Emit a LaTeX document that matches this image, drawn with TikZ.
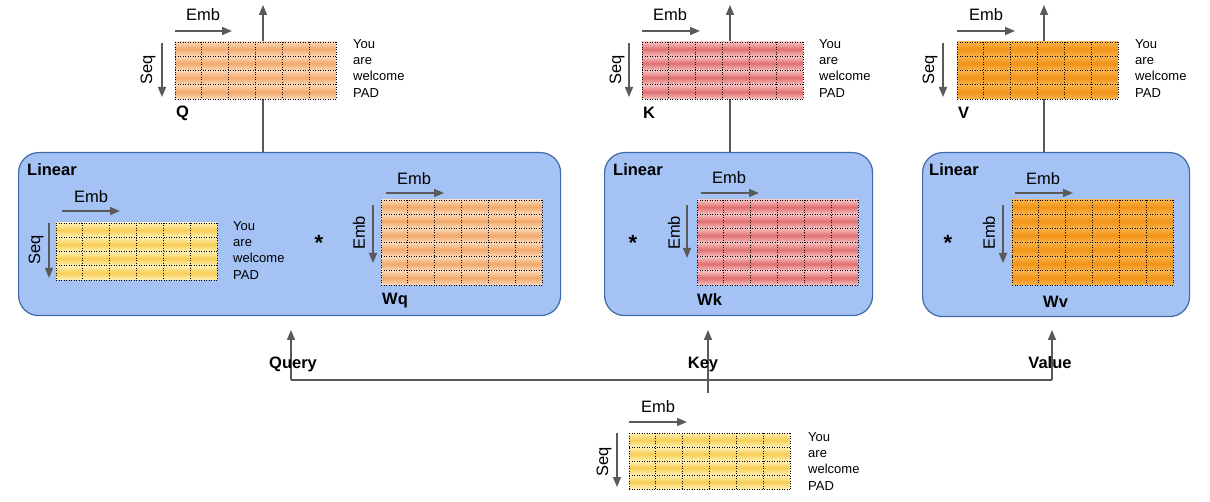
\documentclass[tikz,border=0pt]{standalone}
\usepackage{fontspec}
\setmainfont{Liberation Sans}
\usetikzlibrary{arrows.meta}
\definecolor{boxfill}{HTML}{A4C2F4}
\definecolor{boxborder}{HTML}{3F69A8}
\definecolor{arrgray}{HTML}{5A5A5A}
\definecolor{yellowL}{HTML}{FFF1B5}
\definecolor{yellowD}{HTML}{F7CE55}
\definecolor{peachL}{HTML}{FCD9B8}
\definecolor{peachD}{HTML}{F2A96B}
\definecolor{redL}{HTML}{F7C0C0}
\definecolor{redD}{HTML}{E07070}
\definecolor{orangeL}{HTML}{F9B24A}
\definecolor{orangeD}{HTML}{F29318}
% #1 name, #2 x, #3 y, #4 rows, #5 height, #6 light, #7 dark
\newcommand\gmat[7]{%
  \node[inner sep=0, minimum width=161pt, minimum height=#5pt, anchor=north west] (#1) at (#2,#3) {};
  \foreach \r in {1,...,#4}{%
    \shade[top color=#6, bottom color=#6, middle color=#7]
      (#2,{#3+(\r-1)*#5/#4}) rectangle ({#2+161},{#3+\r*#5/#4});}
  \foreach \r in {0,...,#4}{%
    \draw[dotline] (#2,{#3+\r*#5/#4}) -- ({#2+161},{#3+\r*#5/#4});}
  \foreach \c in {0,...,6}{%
    \draw[dotline] ({#2+\c*161/6},#3) -- ({#2+\c*161/6},{#3+#5});}
}
\begin{document}
\begin{tikzpicture}[x=1pt,y=-1pt,
  arr/.style={draw=arrgray, line width=1.4pt, -{Triangle[length=10pt,width=8pt]}},
  plain/.style={draw=arrgray, line width=1.4pt},
  linbox/.style={draw=boxborder, line width=1.2pt, fill=boxfill, rounded corners=20pt, inner sep=0, anchor=north west},
  lbl/.style={font=\fontsize{16.5}{18}\selectfont, inner sep=0},
  blbl/.style={font=\fontsize{16.5}{18}\selectfont\bfseries, inner sep=0, anchor=west},
  star/.style={font=\fontsize{22}{24}\selectfont\bfseries, inner sep=0},
  words/.style={font=\fontsize{13}{16.3}\selectfont, align=left, inner sep=0, anchor=north west},
  dotline/.style={black, line width=0.9pt, dash pattern=on 0.9pt off 1.6pt},
]
\useasboundingbox[fill=white] (0,0) rectangle (1210,502);

% Linear boxes
\node[linbox, minimum width=542pt, minimum height=163pt] (lq) at (18,152) {};
\node[linbox, minimum width=268pt, minimum height=163pt] (lk) at (604,152) {};
\node[linbox, minimum width=267pt, minimum height=164pt] (lv) at (922,152) {};
\node[blbl] (linq) at (27,170) {Linear};
\node[blbl] (link) at (613,170) {Linear};
\node[blbl] (linv) at (929,170) {Linear};

% output arrows
\coordinate (qtop) at (263,5);
\coordinate (ktop) at (730,5);
\coordinate (vtop) at (1044,5);
\draw[arr] (qtop |- lq.north) -- (qtop);
\draw[arr] (ktop |- lk.north) -- (ktop);
\draw[arr] (vtop |- lv.north) -- (vtop);

% output matrices
\gmat{mq}{175}{42}{4}{57}{peachL}{peachD}
\gmat{mk}{642}{42}{4}{57}{redL}{redD}
\gmat{mv}{957}{42}{4}{57}{orangeL}{orangeD}
% inner matrices
\gmat{mx}{56}{223}{4}{57}{yellowL}{yellowD}
\gmat{wq}{381}{200}{6}{85}{peachL}{peachD}
\gmat{wk}{697}{200}{6}{85}{redL}{redD}
\gmat{wv}{1012}{200}{6}{85}{orangeL}{orangeD}
% input matrix
\gmat{in}{629}{433}{4}{56}{yellowL}{yellowD}

% Emb horizontal labels and arrows
\node[lbl] (eq) at (203,15) {Emb};
\node[lbl] (ek) at (670,15) {Emb};
\node[lbl] (ev) at (986,15) {Emb};
\node[lbl] (ex) at (91,197) {Emb};
\node[lbl] (ewq) at (414,179) {Emb};
\node[lbl] (ewk) at (729,178) {Emb};
\node[lbl] (ewv) at (1043,179) {Emb};
\node[lbl] (ein) at (658,407) {Emb};
\draw[arr] (mq.north west |- 0,31) -- (232,31);
\draw[arr] (mk.north west |- 0,31) -- (700,31);
\draw[arr] (mv.north west |- 0,31) -- (1015,31);
\draw[arr] (62,211) -- (120,211);
\draw[arr] (386,193) -- (444,193);
\draw[arr] (701,193) -- (759,193);
\draw[arr] (1015,193) -- (1073,193);
\draw[arr] (in.north west |- 0,422) -- (687,422);

% vertical arrows
\draw[arr] (162,43) -- (162,97);
\draw[arr] (629,43) -- (629,97);
\draw[arr] (943,43) -- (943,97);
\draw[arr] (49,223) -- (49,278);
\draw[arr] (617,433) -- (617,487);
\draw[arr] (373,205) -- (373,263);
\draw[arr] (687,205) -- (687,258);
\draw[arr] (1003,205) -- (1003,263);
\node[lbl, rotate=90] (sq) at (148,70) {Seq};
\node[lbl, rotate=90] (sk) at (617,70) {Seq};
\node[lbl, rotate=90] (sv) at (930,70) {Seq};
\node[lbl, rotate=90] (sx) at (36,250) {Seq};
\node[lbl, rotate=90] (sin) at (604,462) {Seq};
\node[lbl, rotate=90] (vwq) at (359,233) {Emb};
\node[lbl, rotate=90] (vwk) at (674,233) {Emb};
\node[lbl, rotate=90] (vwv) at (989,233) {Emb};

% word labels
\node[words] (tq) at (353,39) {You\\are\\welcome\\PAD};
\node[words] (tk) at (819,39) {You\\are\\welcome\\PAD};
\node[words] (tv) at (1135,39) {You\\are\\welcome\\PAD};
\node[words] (tx) at (233,221) {You\\are\\welcome\\PAD};
\node[words] (tin) at (808,432) {You\\are\\welcome\\PAD};

% matrix names
\node[blbl] (nq) at (176,113) {Q};
\node[blbl] (nk) at (643,113) {K};
\node[blbl] (nv) at (958,113) {V};
\node[blbl] (nwq) at (382,301) {Wq};
\node[blbl] (nwk) at (697,300) {Wk};
\node[blbl] (nwv) at (1043,302) {Wv};
\node[star] (s1) at (319,243) {*};
\node[star] (s2) at (633,243) {*};
\node[star] (s3) at (948,243) {*};

% input routing
\coordinate (qin) at (291,380);
\coordinate (vin) at (1052,380);
\coordinate (kin) at (708,393);
\draw[plain] (qin) -- (vin);
\draw[arr] (qin) -- (291,330);
\draw[arr] (vin) -- (1052,330);
\draw[arr] (kin) -- (708,330);
\node[blbl, anchor=base west] (query) at (269,369) {Query};
\node[blbl, anchor=base] (key) at (703,369) {Key};
\node[blbl, anchor=base] (value) at (1050,369) {Value};
\end{tikzpicture}
\end{document}
